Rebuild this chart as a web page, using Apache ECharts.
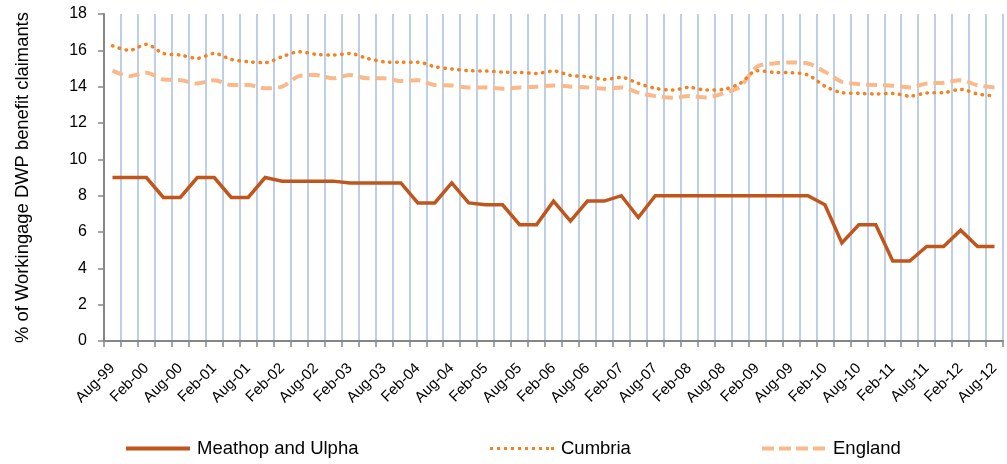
<!DOCTYPE html>
<html><head><meta charset="utf-8">
<script src="https://cdn.jsdelivr.net/npm/echarts@6/dist/echarts.min.js"></script>
<style>html,body{margin:0;padding:0;background:#fff}#c{width:1007px;height:464px}</style>
</head><body><div id="c"></div>
<script>
var categories = ["Aug-99","Nov-99","Feb-00","May-00","Aug-00","Nov-00","Feb-01","May-01","Aug-01","Nov-01",
"Feb-02","May-02","Aug-02","Nov-02","Feb-03","May-03","Aug-03","Nov-03","Feb-04","May-04",
"Aug-04","Nov-04","Feb-05","May-05","Aug-05","Nov-05","Feb-06","May-06","Aug-06","Nov-06",
"Feb-07","May-07","Aug-07","Nov-07","Feb-08","May-08","Aug-08","Nov-08","Feb-09","May-09",
"Aug-09","Nov-09","Feb-10","May-10","Aug-10","Nov-10","Feb-11","May-11","Aug-11","Nov-11",
"Feb-12","May-12","Aug-12"];
var meathop = [9.0,9.0,9.0,7.9,7.9,9.0,9.0,7.9,7.9,9.0,
8.8,8.8,8.8,8.8,8.7,8.7,8.7,8.7,7.6,7.6,
8.7,7.6,7.5,7.5,6.4,6.4,7.7,6.6,7.7,7.7,
8.0,6.8,8.0,8.0,8.0,8.0,8.0,8.0,8.0,8.0,
8.0,8.0,7.5,5.4,6.4,6.4,4.4,4.4,5.2,5.2,
6.1,5.2,5.2];
var cumbria = [16.25,16.0,16.33,15.83,15.74,15.56,15.83,15.5,15.37,15.32,
15.65,15.92,15.78,15.74,15.83,15.56,15.37,15.34,15.35,15.1,
14.97,14.88,14.86,14.8,14.78,14.73,14.86,14.62,14.55,14.4,
14.51,14.18,13.91,13.81,13.96,13.81,13.85,14.18,14.88,14.79,
14.77,14.64,14.03,13.67,13.63,13.6,13.63,13.48,13.65,13.67,
13.85,13.6,13.48];
var england = [14.88,14.58,14.77,14.4,14.36,14.18,14.36,14.09,14.09,13.91,
14.0,14.58,14.64,14.46,14.64,14.46,14.46,14.31,14.36,14.09,
14.07,13.96,13.96,13.89,13.96,14.0,14.07,14.0,13.96,13.89,
13.96,13.67,13.48,13.39,13.48,13.41,13.63,14.0,15.1,15.28,
15.33,15.28,14.82,14.27,14.14,14.09,14.05,13.96,14.18,14.22,
14.36,14.07,13.96];
var seriesNames = ["Meathop and Ulpha","Cumbria","England"];
var yTitle = "% of Workingage DWP benefit claimants";

// legend icon shapes (64 x 4 units)
var iconSolid = 'path://M0,0h64v4h-64z';
var iconDotted = 'path://M0,0.5h3v3h-3z M7,0.5h3v3h-3z M14,0.5h3v3h-3z M21,0.5h3v3h-3z M28,0.5h3v3h-3z M35,0.5h3v3h-3z M42,0.5h3v3h-3z M49,0.5h3v3h-3z M56,0.5h3v3h-3z M61,0.5h3v3h-3z M0,0h0.01v4h-0.01z';
var iconDashed = 'path://M0,0h12v4h-12z M17,0h12v4h-12z M34,0h12v4h-12z M51,0h12v4h-12z M63.99,0h0.01v4h-0.01z';

var chart = echarts.init(document.getElementById('c'), null, {renderer:'canvas'});
var font = "'Liberation Sans', Arial, sans-serif";
var legendBase = {top: 439, padding: 0, itemWidth: 64, itemHeight: 4, itemGap: 7,
  textStyle:{fontFamily: font, fontSize: 18.5, color:'#000', padding: [0,0,0,2]}};
chart.setOption({
  animation: false,
  textStyle: {fontFamily: font},
  grid: {left: 104, right: 4, top: 14, bottom: 123, containLabel: false},
  legend: [
    Object.assign({}, legendBase, {left: 126, data: [{name: seriesNames[0], icon: iconSolid}]}),
    Object.assign({}, legendBase, {left: 490, data: [{name: seriesNames[1], icon: iconDotted}]}),
    Object.assign({}, legendBase, {left: 762, data: [{name: seriesNames[2], icon: iconDashed}]})
  ],
  xAxis: {
    type: 'category', data: categories, boundaryGap: true,
    axisLine: {lineStyle: {color: '#868686', width: 2}},
    axisTick: {show: true, interval: 0, length: 6, lineStyle: {color: '#868686', width: 1.5}},
    splitLine: {show: true, interval: 0, lineStyle: {color: '#BCCFE6', width: 2}},
    axisLabel: {interval: 1, rotate: 45, fontSize: 15, color: '#000', fontFamily: font, margin: 25}
  },
  yAxis: {
    type: 'value', min: 0, max: 18, interval: 2,
    name: yTitle, nameLocation: 'middle', nameRotate: 90, nameGap: 72,
    nameTextStyle: {fontSize: 18.4, color: '#000', fontFamily: font},
    axisLine: {show: true, lineStyle: {color: '#868686', width: 2}},
    axisTick: {show: true, length: 6, lineStyle: {color: '#868686', width: 1.5}},
    splitLine: {show: false},
    axisLabel: {fontSize: 16, color: '#000', fontFamily: font, margin: 17}
  },
  series: [
    {name: seriesNames[0], type: 'line', data: meathop, symbol: 'none', z: 3,
     lineStyle: {color: '#C0561B', width: 3.5, join: 'miter'}, itemStyle: {color: '#C0561B'}},
    {name: seriesNames[1], type: 'line', data: cumbria, symbol: 'none', smooth: 0.3, z: 2,
     lineStyle: {color: '#F58220', width: 3.5, type: [0.5, 6.5], cap: 'round'}, itemStyle: {color: '#F58220'}},
    {name: seriesNames[2], type: 'line', data: england, symbol: 'none', smooth: 0.3, z: 1,
     lineStyle: {color: '#FAB98A', width: 4, type: [11, 6]}, itemStyle: {color: '#FAB98A'}}
  ]
});
</script></body></html>
